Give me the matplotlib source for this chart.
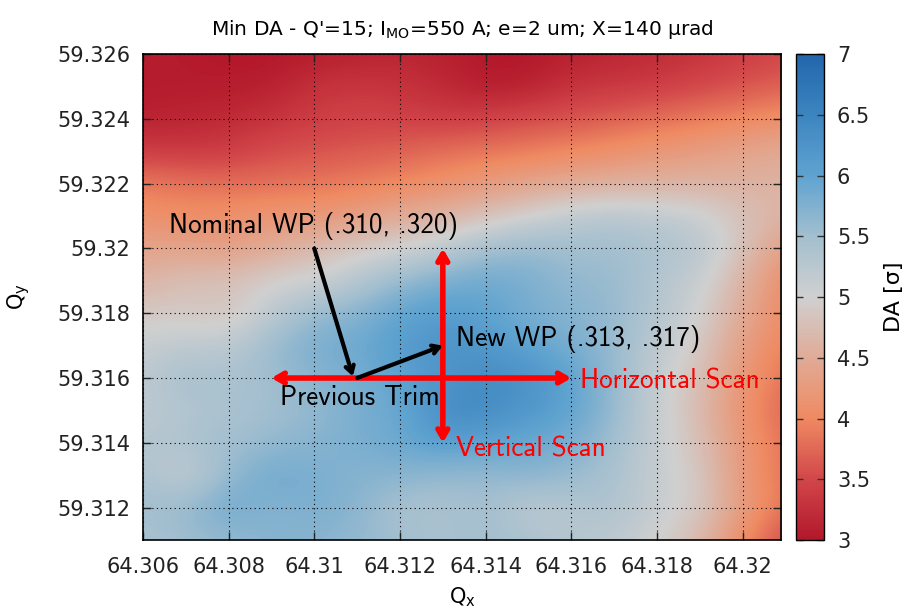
import numpy as np
import matplotlib
matplotlib.use('Agg')
import matplotlib.pyplot as plt
from matplotlib.colors import LinearSegmentedColormap

# tune scan grid (step 0.001 in both planes)
QX = [64.306, 64.307, 64.308, 64.309, 64.310, 64.311, 64.312, 64.313,
      64.314, 64.315, 64.316, 64.317, 64.318, 64.319, 64.320, 64.321]
QY = [59.326, 59.325, 59.324, 59.323, 59.322, 59.321, 59.320, 59.319,
      59.318, 59.317, 59.316, 59.315, 59.314, 59.313, 59.312, 59.311]

# minimum DA [sigma], one row per QY (top to bottom), one column per QX
DA = [
    [3.05, 3.05, 3.0, 3.0, 3.05, 3.1, 3.15, 3.1, 3.0, 3.0, 3.1, 3.15, 3.2, 3.3, 3.4, 3.5],
    [3.05, 3.05, 3.05, 3.1, 3.3, 3.35, 3.3, 3.2, 3.05, 3.1, 3.3, 3.35, 3.4, 3.5, 3.6, 3.7],
    [3.1, 3.15, 3.2, 3.3, 3.4, 3.45, 3.45, 3.4, 3.45, 3.55, 3.6, 3.7, 3.8, 3.9, 4.0, 4.1],
    [3.4, 3.35, 3.4, 3.55, 3.6, 3.65, 3.7, 3.8, 3.85, 3.9, 4.0, 4.1, 4.2, 4.3, 4.4, 4.5],
    [3.9, 3.85, 3.8, 3.8, 3.85, 3.9, 4.0, 4.1, 4.25, 4.4, 4.5, 4.55, 4.6, 4.6, 4.6, 4.6],
    [4.1, 4.05, 4.1, 4.2, 4.2, 4.3, 4.5, 4.6, 4.8, 5.0, 5.2, 5.3, 5.2, 5.1, 4.8, 4.6],
    [4.4, 4.4, 4.3, 4.5, 4.7, 4.9, 5.0, 5.2, 5.5, 5.6, 5.5, 5.5, 5.4, 5.3, 4.8, 4.3],
    [4.6, 4.8, 4.8, 5.0, 5.0, 5.3, 5.6, 5.8, 5.9, 5.8, 5.6, 5.6, 5.3, 5.1, 4.6, 4.0],
    [4.9, 4.9, 4.8, 5.2, 5.6, 5.7, 6.0, 6.1, 6.0, 5.8, 5.7, 5.6, 5.3, 5.0, 4.5, 4.0],
    [5.1, 5.2, 5.2, 5.6, 5.8, 5.9, 6.1, 6.3, 6.2, 6.0, 5.8, 5.6, 5.2, 4.9, 4.3, 3.9],
    [5.2, 5.5, 5.4, 5.5, 5.7, 5.8, 6.0, 6.2, 6.4, 6.3, 6.0, 5.6, 5.1, 4.8, 4.2, 3.8],
    [5.2, 5.3, 5.4, 5.5, 5.6, 5.8, 5.9, 6.4, 6.4, 6.2, 6.0, 5.6, 5.1, 4.7, 4.1, 3.7],
    [5.3, 5.4, 5.5, 5.6, 5.7, 5.8, 5.9, 6.1, 6.0, 5.9, 5.8, 5.5, 5.1, 4.8, 4.2, 3.8],
    [5.4, 5.1, 5.6, 5.9, 5.8, 5.7, 5.7, 5.6, 5.6, 5.7, 5.6, 5.4, 5.1, 4.9, 4.2, 3.8],
    [5.5, 5.6, 5.9, 5.7, 5.8, 5.7, 5.4, 5.4, 5.5, 5.2, 5.3, 5.4, 5.1, 4.9, 4.3, 3.8],
    [5.4, 5.5, 5.6, 5.7, 5.7, 5.6, 5.5, 5.4, 5.5, 5.4, 5.3, 5.2, 5.0, 4.7, 4.0, 3.5],
]

# working points / scan ranges
NOMINAL = (64.310, 59.320)
PREVIOUS = (64.311, 59.316)
NEW_WP = (64.313, 59.317)
H_SCAN = (64.309, 64.316)
V_SCAN = (59.314, 59.320)

CB_TICKS = [3, 3.5, 4, 4.5, 5, 5.5, 6, 6.5, 7]

cmap = LinearSegmentedColormap.from_list('da', [
    (0.00, '#b2182b'), (0.125, '#d2474a'), (0.25, '#ef8a62'),
    (0.375, '#e0ab97'), (0.50, '#d0d0d0'), (0.625, '#a3bfcf'),
    (0.75, '#5fa3d0'), (0.875, '#3d85c0'), (1.00, '#2166ac')])

fig = plt.figure(figsize=(9.16, 6.15), dpi=100)
ax = fig.add_axes([0.156, 0.122, 0.697, 0.790])
cax = fig.add_axes([0.869, 0.122, 0.031, 0.790])

dx = 0.0005
im = ax.imshow(np.array(DA), cmap=cmap, vmin=3, vmax=7, origin='upper',
               interpolation='bicubic', aspect='auto',
               extent=[QX[0] - dx, QX[-1] + dx, QY[-1] - dx, QY[0] + dx])
ax.set_xlim(64.306, 64.3209)
ax.set_ylim(59.311, 59.326)

xt = [64.306, 64.308, 64.31, 64.312, 64.314, 64.316, 64.318, 64.32]
yt = [59.312, 59.314, 59.316, 59.318, 59.32, 59.322, 59.324, 59.326]
ax.set_xticks(xt)
ax.set_xticklabels(['64.306', '64.308', '64.31', '64.312', '64.314', '64.316', '64.318', '64.32'])
ax.set_yticks(yt)
ax.set_yticklabels(['59.312', '59.314', '59.316', '59.318', '59.32', '59.322', '59.324', '59.326'])
ax.tick_params(direction='in', length=6, width=1, top=True, right=True,
               labelsize=15, colors='#222222')
ax.tick_params(axis='x', pad=12)
ax.tick_params(axis='y', pad=9)
ax.grid(True, color='black', linestyle=(0, (1, 3)), linewidth=0.8)
for s in ax.spines.values():
    s.set_linewidth(1.2)

ax.set_xlabel(r'Q$_\mathrm{x}$', fontsize=15, labelpad=6)
ax.set_ylabel(r'Q$_\mathrm{y}$', fontsize=15, labelpad=18)
ax.set_title(r"Min DA - Q'=15; I$_\mathrm{MO}$=550 A; e=2 um; X=140 µrad",
             fontsize=14.5, pad=14)

# scan ranges
red_style = dict(arrowstyle='<->,head_length=0.6,head_width=0.35', color='#ff0000', lw=4,
                 shrinkA=0, shrinkB=0)
ax.annotate('', xy=(H_SCAN[1], PREVIOUS[1]), xytext=(H_SCAN[0], PREVIOUS[1]),
            arrowprops=red_style)
ax.annotate('', xy=(NEW_WP[0], V_SCAN[1]), xytext=(NEW_WP[0], V_SCAN[0]),
            arrowprops=red_style)

# trim history
blk_style = dict(arrowstyle='->,head_length=0.5,head_width=0.3', color='black', lw=3,
                 shrinkA=0, shrinkB=0)
ax.annotate('', xy=(PREVIOUS[0] - 0.0001, PREVIOUS[1] + 0.00005), xytext=NOMINAL,
            arrowprops=blk_style)
ax.annotate('', xy=NEW_WP, xytext=PREVIOUS, arrowprops=blk_style)

tfont = dict(family='cmss10', fontsize=19.5)
ax.text(64.3066, 59.3207, 'Nominal WP (.310, .320)', va='center', ha='left',
        color='black', **tfont)
ax.text(64.3092, 59.3154, 'Previous Trim', va='center', ha='left',
        color='black', **tfont)
ax.text(64.3133, 59.3172, 'New WP (.313, .317)', va='center', ha='left',
        color='black', **tfont)
ax.text(64.3162, 59.3159, 'Horizontal Scan', va='center', ha='left',
        color='#ff0000', **tfont)
ax.text(64.3133, 59.3138, 'Vertical Scan', va='center', ha='left',
        color='#ff0000', **tfont)

cb = fig.colorbar(im, cax=cax, ticks=CB_TICKS)
cb.ax.set_yticklabels(['3', '3.5', '4', '4.5', '5', '5.5', '6', '6.5', '7'])
cb.ax.tick_params(direction='in', length=5, width=1, labelsize=15, pad=9,
                  left=True, right=True, color='#333333', labelcolor='#222222')
cb.outline.set_linewidth(1)
cb.set_label('DA [σ]', fontsize=16, labelpad=10)

fig.savefig('out.png', dpi=100)
